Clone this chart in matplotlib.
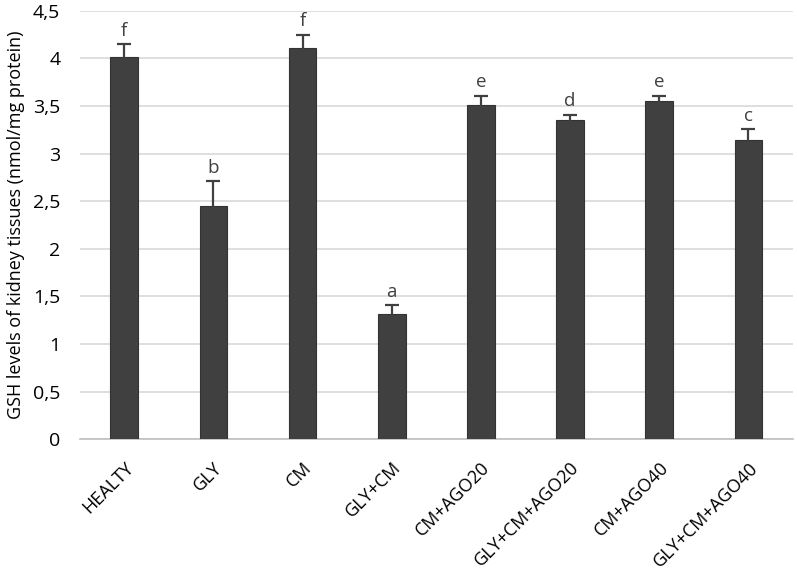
import matplotlib.pyplot as plt
from matplotlib.ticker import FuncFormatter

# GSH levels per group
groups = ["HEALTY", "GLY", "CM", "GLY+CM", "CM+AGO20", "GLY+CM+AGO20", "CM+AGO40", "GLY+CM+AGO40"]
gsh_mean = [4.02, 2.45, 4.11, 1.32, 3.51, 3.35, 3.55, 3.14]
gsh_err = [0.13, 0.26, 0.14, 0.09, 0.10, 0.06, 0.06, 0.12]
sig_letters = ["f", "b", "f", "a", "e", "d", "e", "c"]
y_ticks = [0, 0.5, 1, 1.5, 2, 2.5, 3, 3.5, 4, 4.5]

plt.rcParams["font.family"] = ["Open Sans", "DejaVu Sans"]
text_col = "#404040"

fig = plt.figure(figsize=(7.97, 5.69), dpi=100)
ax = fig.add_axes([0.100, 0.228, 0.895, 0.753])

x = list(range(len(groups)))
ax.bar(x, gsh_mean, width=0.31, color="#404040", edgecolor="#333333", linewidth=0.8, zorder=3,
       yerr=gsh_err, error_kw=dict(ecolor="#404040", elinewidth=1.6, capsize=5, capthick=1.6))

for xi, m, e, lab in zip(x, gsh_mean, gsh_err, sig_letters):
    ax.annotate(lab, (xi, m + e), xytext=(0, 3), textcoords="offset points",
                ha="center", va="bottom", fontsize=13.5, color=text_col)

ax.set_xlim(-0.5, len(groups) - 0.5)
ax.set_ylim(0, 4.5)
ax.set_yticks(y_ticks)
ax.yaxis.set_major_formatter(FuncFormatter(lambda v, p: f"{v:g}".replace(".", ",")))
ax.grid(axis="y", color="#d9d9d9", linewidth=1.2, zorder=0)
ax.set_axisbelow(True)

for side in ["top", "right", "left"]:
    ax.spines[side].set_visible(False)
ax.spines["bottom"].set_color("#bfbfbf")
ax.spines["bottom"].set_linewidth(1.2)
ax.spines["bottom"].set_zorder(1)

ax.tick_params(axis="both", length=0, colors="black")
ax.tick_params(axis="y", pad=14, labelsize=14)
ax.set_xticks(x)
ax.set_xticklabels(groups, rotation=45, ha="right", rotation_mode="anchor", fontsize=13)
ax.tick_params(axis="x", pad=14)

ax.set_ylabel("GSH levels of kidney tissues (nmol/mg protein)", fontsize=13, labelpad=6)

fig.savefig("out.png", dpi=100)
